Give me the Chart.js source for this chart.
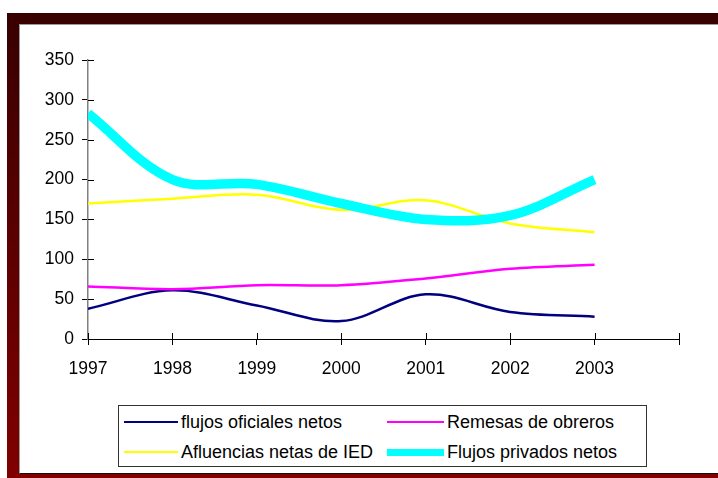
<!DOCTYPE html>
<html>
<head>
<meta charset="utf-8">
<script src="https://cdn.jsdelivr.net/npm/chart.js@4/dist/chart.umd.min.js"></script>
<style>
  html, body { margin:0; padding:0; background:#fff; }
  body { width:718px; height:478px; position:relative; overflow:hidden; font-family:"Liberation Sans", Arial, sans-serif; }
  #frame { position:absolute; left:7px; top:13px; width:711px; height:465px; background:linear-gradient(to bottom, #380000, #800000); }
  #inner { position:absolute; left:19px; top:24px; width:699px; height:450px; background:#fff; box-sizing:border-box;
           border-top:1px solid #9a9a9a; border-left:1px solid #9a9a9a; border-bottom:1px solid #111; }
  #c { position:absolute; left:0; top:0; }
  #legend { position:absolute; left:118px; top:405px; width:529px; height:62px; box-sizing:border-box; border:1px solid #333; background:#fff; }
  .li { position:absolute; height:22px; }
  .sw { position:absolute; top:50%; }
  .lt { position:absolute; top:0; font-size:18px; line-height:22px; color:#000; white-space:nowrap; }
</style>
</head>
<body>
<div id="frame"></div>
<div id="inner"></div>
<canvas id="c" width="718" height="478"></canvas>
<div id="legend"></div>
<script>
const years = ['1997', '1998', '1999', '2000', '2001', '2002', '2003', ''];
const flujosOficiales = [38, 61, 42, 22.5, 56, 34, 28];
const remesasObreros = [66, 62.5, 67.5, 67.5, 76, 88, 93];
const afluenciasIED = [170, 176, 181, 162, 174, 145, 134];
const flujosPrivados = [283, 200, 194, 170, 150, 155, 200];
const yTicks = { min: 0, max: 350, step: 50 };

const innerTicks = {
  id: 'innerTicks',
  beforeDatasetsDraw(chart) {
    const { ctx, scales: { x, y } } = chart;
    ctx.save();
    ctx.strokeStyle = '#000';
    ctx.lineWidth = 1;
    y.ticks.forEach((t, i) => {
      const py = Math.round(y.getPixelForTick(i)) + 0.5;
      ctx.beginPath(); ctx.moveTo(y.right, py); ctx.lineTo(y.right + 6, py); ctx.stroke();
    });
    x.ticks.forEach((t, i) => {
      const px = Math.round(x.getPixelForTick(i)) + 0.5;
      ctx.beginPath(); ctx.moveTo(px, x.top); ctx.lineTo(px, x.top - 6); ctx.stroke();
    });
    ctx.restore();
  }
};

const chart = new Chart(document.getElementById('c'), {
  type: 'line',
  data: {
    labels: years,
    datasets: [
      { label: 'flujos oficiales netos', data: flujosOficiales, borderColor: '#000080', borderWidth: 2.5, order: 4, legendWidth: 2 },
      { label: 'Remesas de obreros', data: remesasObreros, borderColor: '#ff00ff', borderWidth: 2.5, order: 3, legendWidth: 2 },
      { label: 'Afluencias netas de IED', data: afluenciasIED, borderColor: '#ffff00', borderWidth: 2.5, order: 2, legendWidth: 2 },
      { label: 'Flujos privados netos', data: flujosPrivados, borderColor: '#00ffff', borderWidth: 9.5, order: 1, legendWidth: 7 }
    ]
  },
  options: {
    responsive: false,
    animation: false,
    events: [],
    clip: 0,
    elements: { point: { radius: 0 }, line: { tension: 0.35, fill: false } },
    layout: { padding: { left: 20, top: 60, right: 39, bottom: 0 } },
    plugins: { legend: { display: false }, tooltip: { enabled: false } },
    scales: {
      x: {
        type: 'category',
        offset: false,
        grid: { drawOnChartArea: false, tickLength: 6, color: '#000' },
        border: { color: '#000', width: 1 },
        ticks: { color: '#000', font: { family: '"Liberation Sans", Arial', size: 17.5 }, padding: 14, maxRotation: 0, autoSkip: false },
        afterFit(s) { s.height = 139; }
      },
      y: {
        min: yTicks.min, max: yTicks.max,
        grid: { drawOnChartArea: false, tickLength: 6, color: '#000' },
        border: { color: '#808080', width: 1.5 },
        ticks: { stepSize: yTicks.step, color: '#000', font: { family: '"Liberation Sans", Arial', size: 17.5 }, padding: 8 },
        afterFit(s) { s.width = 68; }
      }
    }
  },
  plugins: [innerTicks]
});

// HTML legend built from the chart's datasets
const lg = document.getElementById('legend');
const cols = [{ sx: 5, sw: 54, tx: 62 }, { sx: 268, sw: 57, tx: 328 }];
const rows = [5, 35];
chart.data.datasets.forEach((ds, i) => {
  const c = cols[i % 2], r = rows[Math.floor(i / 2)];
  const it = document.createElement('div');
  it.className = 'li';
  it.style.left = '0px'; it.style.top = r + 'px'; it.style.width = '100%';
  const sw = document.createElement('div');
  sw.className = 'sw';
  sw.style.left = c.sx + 'px'; sw.style.width = c.sw + 'px';
  sw.style.height = ds.legendWidth + 'px'; sw.style.marginTop = (-ds.legendWidth / 2) + 'px';
  sw.style.background = ds.borderColor;
  const t = document.createElement('div');
  t.className = 'lt';
  t.style.left = c.tx + 'px';
  t.textContent = ds.label;
  it.appendChild(sw); it.appendChild(t);
  lg.appendChild(it);
});
</script>
</body>
</html>
